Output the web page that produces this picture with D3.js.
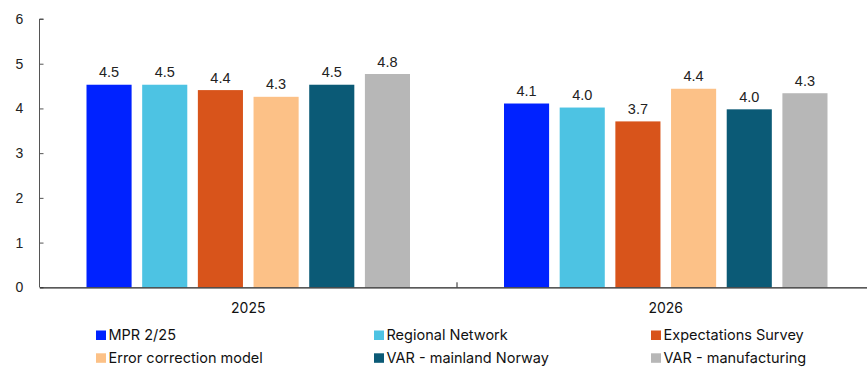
<!DOCTYPE html>
<html>
<head>
<meta charset="utf-8">
<script src="https://cdn.jsdelivr.net/npm/d3@7/dist/d3.min.js"></script>
<style>
  html, body { margin: 0; padding: 0; background: #fff; }
  svg { display: block; }
</style>
</head>
<body>
<svg id="chart" width="867" height="367"></svg>
<script>
// Forecast comparison by source, per year
const years = ["2025", "2026"];
const seriesNames = ["MPR 2/25", "Regional Network", "Expectations Survey",
                     "Error correction model", "VAR - mainland Norway", "VAR - manufacturing"];
const seriesColors = ["#0022ff", "#4dc3e3", "#d8541b", "#fcc187", "#0b5a76", "#b7b7b7"];
const values2025 = [4.53, 4.53, 4.41, 4.26, 4.53, 4.77];
const values2026 = [4.11, 4.02, 3.71, 4.44, 3.98, 4.34];
const yTicks = [0, 1, 2, 3, 4, 5, 6];

const valuesByYear = [values2025, values2026];
const data = years.map((y, i) => ({
  year: y,
  bars: seriesNames.map((s, j) => ({ series: s, value: valuesByYear[i][j], color: seriesColors[j] }))
}));

const svg = d3.select("#chart");
const x0 = 39.5, x1 = 874.5, yTop = 19, yBottom = 287.3;

const x = d3.scaleBand().domain(years).range([x0, x1]).paddingInner(0).paddingOuter(0);
const xs = d3.scaleBand().domain(seriesNames).range([47, x.bandwidth() - 47]).paddingInner(0.19).paddingOuter(0);
const y = d3.scaleLinear().domain([0, 6]).range([yBottom, yTop]);

// bars
const groups = svg.append("g").selectAll("g").data(data).join("g")
  .attr("transform", d => `translate(${x(d.year)},0)`);

groups.selectAll("rect").data(d => d.bars).join("rect")
  .attr("x", d => xs(d.series))
  .attr("width", xs.bandwidth())
  .attr("y", d => y(d.value))
  .attr("height", d => y(0) - y(d.value))
  .attr("fill", d => d.color);

groups.selectAll("text").data(d => d.bars).join("text")
  .attr("x", d => xs(d.series) + xs.bandwidth() / 2)
  .attr("y", d => y(d.value) - 7.5)
  .attr("text-anchor", "middle")
  .attr("font-family", "Liberation Sans, Arial, sans-serif")
  .attr("font-size", 14.5)
  .attr("fill", "#222")
  .text(d => d3.format(".1f")(d.value));

// y axis
const yAxis = svg.append("g")
  .attr("transform", `translate(${x0},0)`)
  .call(d3.axisRight(y).tickValues(yTicks).tickSize(4).tickFormat(d3.format("d")));
yAxis.select(".domain").attr("stroke", "#555").attr("d", `M4,${yTop}H0V${yBottom}`);
yAxis.selectAll(".tick line").attr("stroke", "#555");
yAxis.selectAll(".tick text")
  .attr("x", -20)
  .attr("text-anchor", "middle")
  .attr("font-family", "Liberation Sans, Arial, sans-serif")
  .attr("font-size", 14)
  .attr("fill", "#222");

// x axis
const xAxis = svg.append("g")
  .attr("transform", `translate(0,${yBottom})`)
  .call(d3.axisBottom(x).tickSize(0).tickPadding(15.5));
xAxis.select(".domain").attr("stroke", "#222").attr("stroke-width", 1.2);
xAxis.selectAll(".tick text")
  .attr("font-family", "Inter, sans-serif")
  .attr("font-size", 14)
  .attr("fill", "#111");
// divider tick between year groups
xAxis.append("line")
  .attr("x1", x("2026")).attr("x2", x("2026"))
  .attr("y1", 0).attr("y2", -5)
  .attr("stroke", "#222");

// legend
const legendCols = [96, 374, 651];
const legendRows = [335, 357.8];
const legend = svg.append("g").selectAll("g").data(seriesNames).join("g")
  .attr("transform", (d, i) => `translate(${legendCols[i % 3]},${legendRows[Math.floor(i / 3)]})`);
legend.append("rect")
  .attr("x", 0).attr("y", -4.5).attr("width", 10).attr("height", 9.5)
  .attr("fill", (d, i) => seriesColors[i]);
legend.append("text")
  .attr("x", 12.5).attr("y", 0).attr("dy", "0.35em")
  .attr("font-family", "Inter, sans-serif")
  .attr("font-size", 14.5)
  .attr("fill", "#111")
  .text(d => d);
</script>
</body>
</html>
